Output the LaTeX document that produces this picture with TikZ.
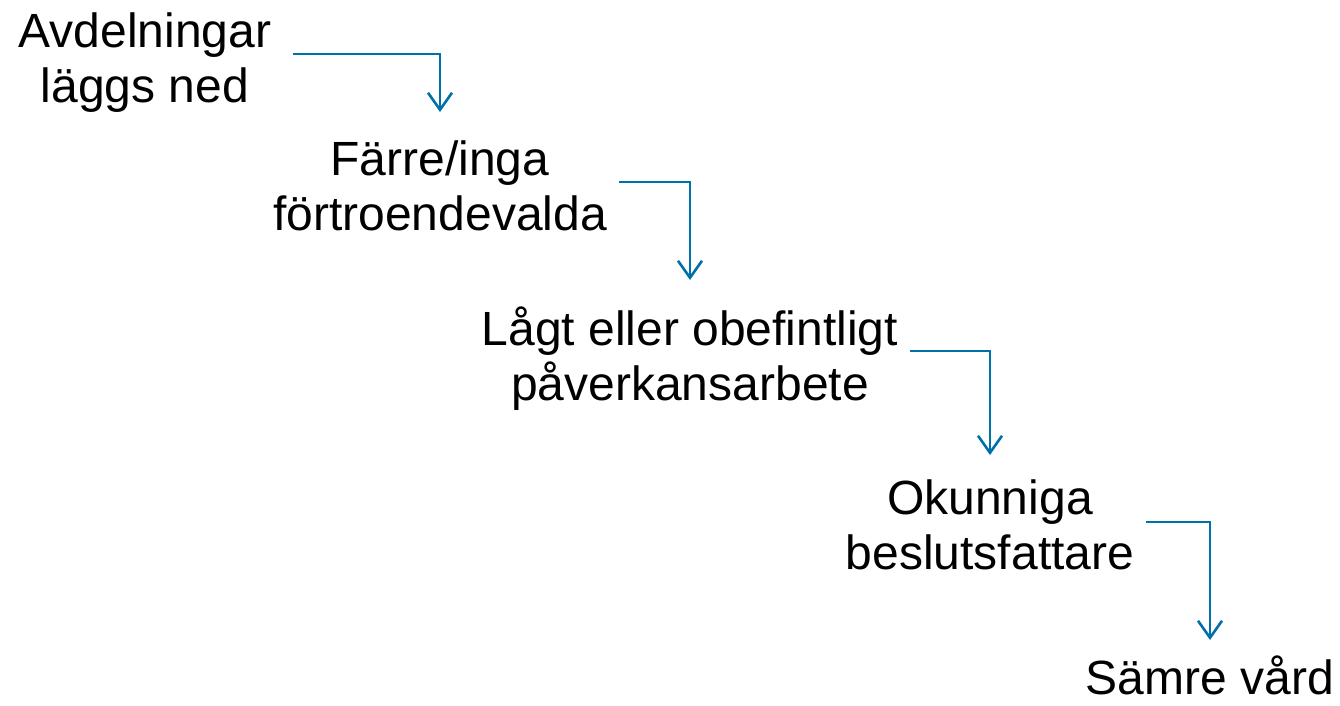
\documentclass[tikz,border=0pt]{standalone}
\usepackage{fontspec}
\setmainfont{Liberation Sans}
\usetikzlibrary{arrows.meta}
\definecolor{flowblue}{RGB}{0,112,170}
\begin{document}
\begin{tikzpicture}[x=1pt, y=-1pt,
    box/.style={align=center, inner xsep=12pt, inner ysep=4pt, anchor=base, font=\fontsize{48}{55}\selectfont},
    arrow/.style={-{Straight Barb[length=17pt,width=24pt,line width=2.6pt]}, draw=flowblue, line width=2.6pt}]
    \useasboundingbox (0,0) rectangle (1340,705);

    \node[box] (avd) at (145,102) {Avdelningar\\läggs ned};
    \node[box] (farre) at (440,230) {Färre/inga\\förtroendevalda};
    \node[box] (lagt) at (690,400) {Lågt eller obefintligt\\påverkansarbete};
    \node[box] (okunniga) at (990,569) {Okunniga\\beslutsfattare};
    \node[box] (vard) at (1210,694) {Sämre vård};

    \draw[arrow] ([xshift=9pt,yshift=48pt]avd.base east) -| ([yshift=118pt]farre.base);
    \draw[arrow] ([yshift=48pt]farre.base east) -| ([yshift=120pt]lagt.base);
    \draw[arrow] ([yshift=49pt]lagt.base east) -| ([yshift=114pt]okunniga.base);
    \draw[arrow] ([yshift=47pt]okunniga.base east) -| ([yshift=54pt]vard.base);
\end{tikzpicture}
\end{document}
